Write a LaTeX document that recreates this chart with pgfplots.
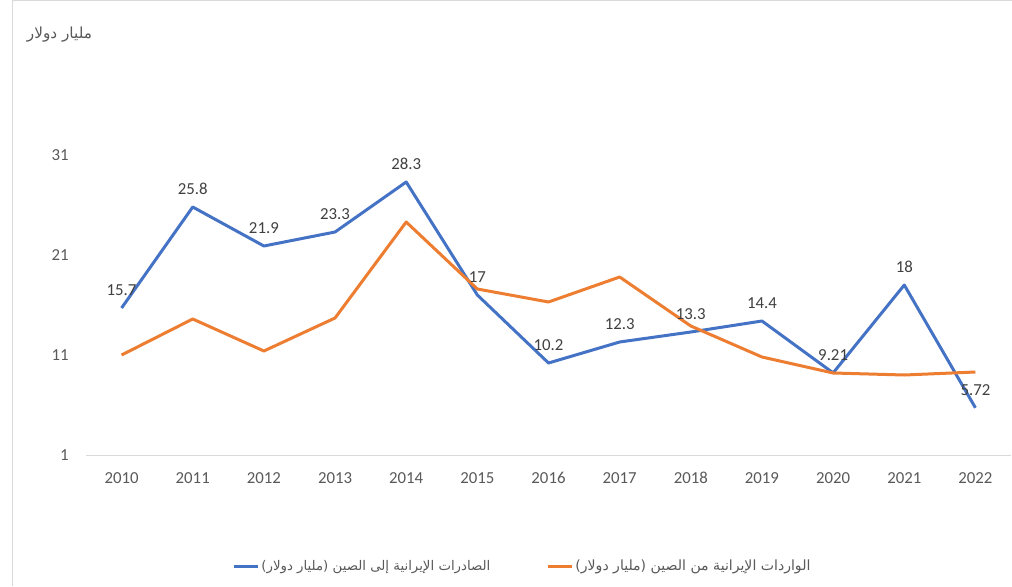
\documentclass[border=0pt]{standalone}
\usepackage{pgfplots}
\pgfplotsset{compat=1.18}
\usepackage{fontspec}
\setmainfont{Carlito}
\newfontfamily\arabicfont[Script=Arabic]{DejaVu Sans}
\TeXXeTstate=1
\definecolor{cblue}{HTML}{4472C4}
\definecolor{corange}{HTML}{ED7D31}
\definecolor{tgray}{HTML}{595959}
\definecolor{lblgray}{HTML}{404040}
\definecolor{lgray}{HTML}{D9D9D9}
\begin{document}
\begin{tikzpicture}[x=0.75pt,y=0.75pt]
\path[use as bounding box] (0,0) rectangle (1012,586);
\draw[lgray, line width=0.75pt] (12,0) -- (12,585) -- (1012,585);
\node[text=tgray, inner sep=0pt] at (59.5,551) {\resizebox{48.75pt}{!}{\arabicfont\beginR مليار دولار\endR}};
\coordinate (A) at (86,131);
\begin{axis}[
  at={(A)}, anchor=south west, scale only axis,
  width=693.75pt, height=225pt,
  xmin=2009.5, xmax=2022.5, ymin=1, ymax=31,
  xtick={2010,2011,2012,2013,2014,2015,2016,2017,2018,2019,2020,2021,2022},
  ytick={1,11,21,31},
  /pgf/number format/assume math mode=true,
  axis x line*=bottom, axis y line*=left,
  x axis line style={lgray, line width=0.75pt, -},
  y axis line style={draw=none},
  major tick length=0pt, tick style={draw=none},
  ticklabel style={font=\fontsize{12.6}{15}\selectfont, text=tgray},
  xticklabel style={/pgf/number format/1000 sep={}, anchor=north, inner sep=0pt, yshift=-12.75pt},
  yticklabel style={anchor=east, inner sep=0pt, xshift=-12.75pt},
  clip=false,
  legend columns=2,
  legend style={at={(0.158,-0.37)}, anchor=west, draw=none, fill=none, inner sep=0pt,
    nodes={inner sep=0pt}, cells={anchor=west},
    /tikz/every odd column/.append style={column sep=1.5pt},
    /tikz/every even column/.append style={column sep=42pt}},
  legend image code/.code={\draw[#1] (0pt,0pt) -- (18pt,0pt);},
]
\addplot[cblue, line width=2.25pt, line join=round,
  nodes near coords, point meta=explicit symbolic,
  every node near coord/.append style={anchor=center, yshift=13.5pt, inner sep=0pt,
     font=\fontsize{12.6}{15}\selectfont, text=lblgray}]
  table[meta=lab] {
x y lab
2010 15.7 15.7
2011 25.8 25.8
2012 21.9 21.9
2013 23.3 23.3
2014 28.3 28.3
2015 17 17
2016 10.2 10.2
2017 12.3 12.3
2018 13.3 13.3
2019 14.4 14.4
2020 9.21 9.21
2021 18 18
2022 5.72 5.72
};
\addlegendentry{\textcolor{tgray}{\resizebox{171.75pt}{!}{\arabicfont\beginR الصادرات الإيرانية إلى الصين (مليار دولار)\endR}}}
\addplot[corange, line width=2.25pt, line join=round] table {
x y
2010 11.0
2011 14.6
2012 11.4
2013 14.7
2014 24.3
2015 17.6
2016 16.3
2017 18.8
2018 13.9
2019 10.8
2020 9.2
2021 9.0
2022 9.3
};
\addlegendentry{\textcolor{tgray}{\resizebox{176.25pt}{!}{\arabicfont\beginR الواردات الإيرانية من الصين (مليار دولار)\endR}}}
\end{axis}
\end{tikzpicture}
\end{document}
